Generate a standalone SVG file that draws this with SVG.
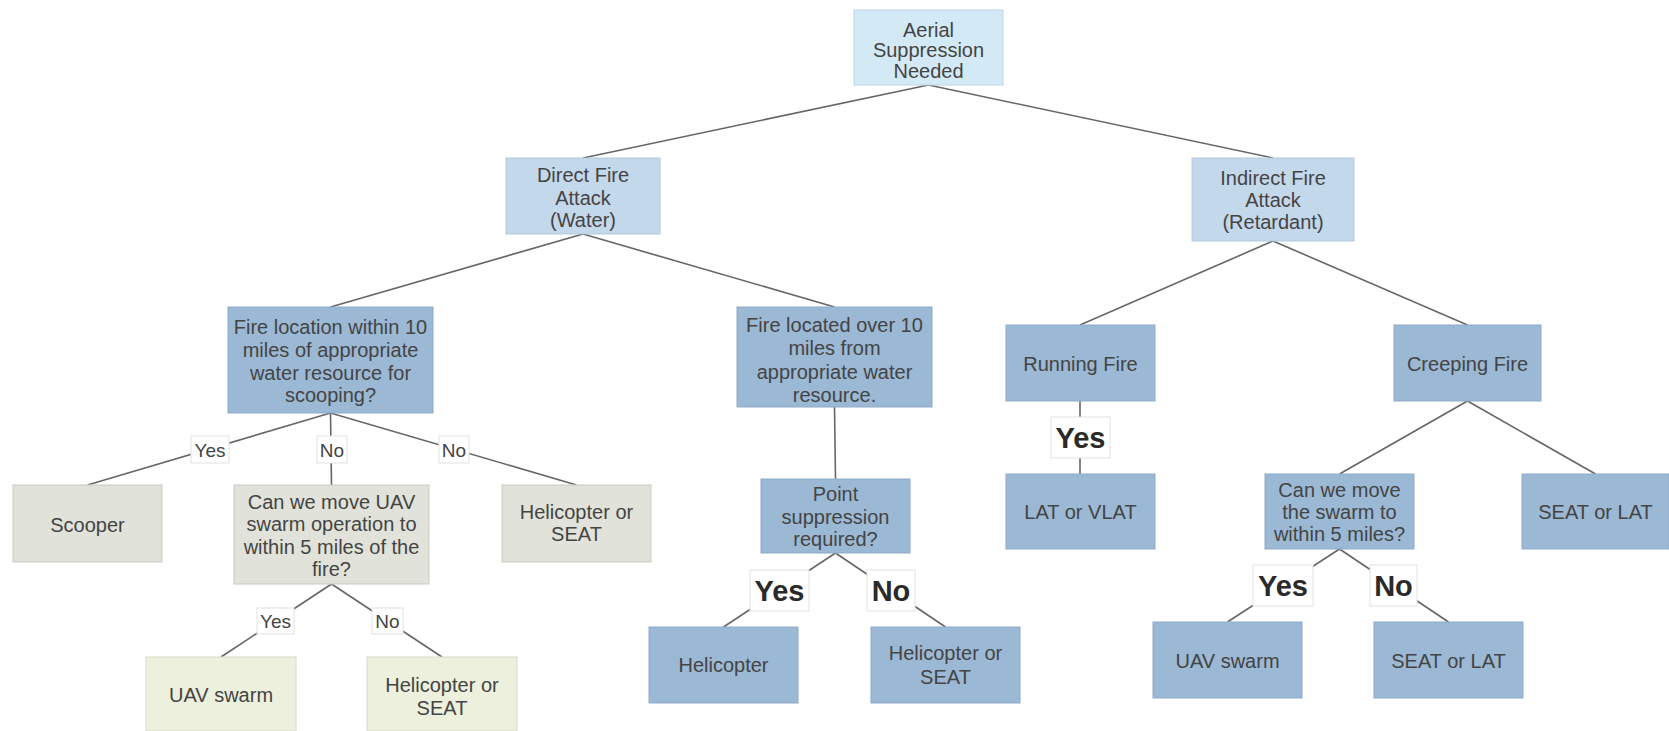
<svg xmlns="http://www.w3.org/2000/svg" width="1669" height="731" viewBox="0 0 1669 731">
<style>
.n{stroke-width:1}
.root{fill:#d3e9f6;stroke:#bcd6e6}
.l1{fill:#c4d8ec;stroke:#b3c9de}
.b{fill:#9bb8d4;stroke:#8eabc7}
.g{fill:#e1e3da;stroke:#c9cbc2}
.gr{fill:#ecf0dd;stroke:#d8dcc9}
text{font-family:"Liberation Sans",Arial,sans-serif;fill:#444;text-anchor:middle;dominant-baseline:central}
.t{font-size:20px}
.lb{font-size:19px}
.bl{font-size:29px;font-weight:bold;fill:#2a2a2a}
.e{stroke:#666;stroke-width:1.6;fill:none}
.lab{fill:#fff;stroke:#e2e2e2;stroke-width:1}
</style>
<rect width="1669" height="731" fill="#fff"/>
<g id="connectors">
<path class="e" d="M928.5,85 L583,158 M928.5,85 L1273,158"/>
<path class="e" d="M583,234 L330.5,307 M583,234 L834.5,307"/>
<path class="e" d="M1273,241 L1080,325 M1273,241 L1467.5,325"/>
<path class="e" d="M330.5,413 L87.5,485 M330.5,413 L331.5,485 M330.5,413 L576.5,485"/>
<path class="e" d="M834.5,407 L835.5,479"/>
<path class="e" d="M331.5,584 L221,657 M331.5,584 L442,657"/>
<path class="e" d="M835.5,553 L723.5,627 M835.5,553 L945.5,627"/>
<path class="e" d="M1080,401 L1080,474"/>
<path class="e" d="M1467.5,401 L1339.5,474 M1467.5,401 L1595.5,474"/>
<path class="e" d="M1339.5,549 L1227.5,622 M1339.5,549 L1448.5,622"/>
<rect class="lab" x="191" y="436" width="38" height="27"/><text class="lb" x="210" y="450">Yes</text>
<rect class="lab" x="317" y="436" width="30" height="27"/><text class="lb" x="332" y="450">No</text>
<rect class="lab" x="439" y="436" width="30" height="27"/><text class="lb" x="454" y="450">No</text>
<rect class="lab" x="257" y="608" width="37" height="26"/><text class="lb" x="275.5" y="621">Yes</text>
<rect class="lab" x="372" y="608" width="31" height="26"/><text class="lb" x="387.5" y="621">No</text>
<rect class="lab" x="750" y="570" width="59" height="41"/><text class="bl" x="779.5" y="591">Yes</text>
<rect class="lab" x="867" y="570" width="48" height="41"/><text class="bl" x="891" y="591">No</text>
<rect class="lab" x="1051" y="417" width="59" height="41"/><text class="bl" x="1080.5" y="438">Yes</text>
<rect class="lab" x="1253" y="565" width="60" height="41"/><text class="bl" x="1283" y="586">Yes</text>
<rect class="lab" x="1370" y="565" width="47" height="41"/><text class="bl" x="1393.5" y="586">No</text>
</g>
<g id="root"><rect class="n root" x="854" y="10" width="149" height="75"/><text class="t" x="928.5" y="29.5">Aerial</text><text class="t" x="928.5" y="50">Suppression</text><text class="t" x="928.5" y="70.5">Needed</text></g>
<g id="direct"><rect class="n l1" x="506" y="158" width="154" height="76"/><text class="t" x="583" y="175">Direct Fire</text><text class="t" x="583" y="197.5">Attack</text><text class="t" x="583" y="220">(Water)</text></g>
<g id="indirect"><rect class="n l1" x="1192" y="158" width="162" height="83"/><text class="t" x="1273" y="178">Indirect Fire</text><text class="t" x="1273" y="200">Attack</text><text class="t" x="1273" y="222">(Retardant)</text></g>
<g id="fire-within"><rect class="n b" x="228" y="307" width="205" height="106"/><text class="t" x="330.5" y="327">Fire location within 10</text><text class="t" x="330.5" y="350">miles of appropriate</text><text class="t" x="330.5" y="372.5">water resource for</text><text class="t" x="330.5" y="395">scooping?</text></g>
<g id="fire-over"><rect class="n b" x="737" y="307" width="195" height="100"/><text class="t" x="834.5" y="325">Fire located over 10</text><text class="t" x="834.5" y="348">miles from</text><text class="t" x="834.5" y="371.5">appropriate water</text><text class="t" x="834.5" y="395">resource.</text></g>
<g id="running"><rect class="n b" x="1006" y="325" width="149" height="76"/><text class="t" x="1080.5" y="364">Running Fire</text></g>
<g id="creeping"><rect class="n b" x="1394" y="325" width="147" height="76"/><text class="t" x="1467.5" y="364">Creeping Fire</text></g>
<g id="scooper"><rect class="n g" x="13" y="485" width="149" height="77"/><text class="t" x="87.5" y="525">Scooper</text></g>
<g id="move-uav"><rect class="n g" x="234" y="485" width="195" height="99"/><text class="t" x="331.5" y="502">Can we move UAV</text><text class="t" x="331.5" y="524">swarm operation to</text><text class="t" x="331.5" y="546.5">within 5 miles of the</text><text class="t" x="331.5" y="569">fire?</text></g>
<g id="heli-seat-grey"><rect class="n g" x="502" y="485" width="149" height="77"/><text class="t" x="576.5" y="512">Helicopter or</text><text class="t" x="576.5" y="534">SEAT</text></g>
<g id="point"><rect class="n b" x="761" y="479" width="149" height="74"/><text class="t" x="835.5" y="494">Point</text><text class="t" x="835.5" y="517">suppression</text><text class="t" x="835.5" y="539">required?</text></g>
<g id="lat-vlat"><rect class="n b" x="1006" y="474" width="149" height="75"/><text class="t" x="1080.5" y="512">LAT or VLAT</text></g>
<g id="move-swarm"><rect class="n b" x="1265" y="474" width="149" height="75"/><text class="t" x="1339.5" y="490">Can we move</text><text class="t" x="1339.5" y="512">the swarm to</text><text class="t" x="1339.5" y="534">within 5 miles?</text></g>
<g id="seat-lat-1"><rect class="n b" x="1522" y="474" width="147" height="75"/><text class="t" x="1595.5" y="512">SEAT or LAT</text></g>
<g id="uav-green"><rect class="n gr" x="146" y="657" width="150" height="74"/><text class="t" x="221" y="695">UAV swarm</text></g>
<g id="heli-seat-green"><rect class="n gr" x="367" y="657" width="150" height="74"/><text class="t" x="442" y="685">Helicopter or</text><text class="t" x="442" y="708">SEAT</text></g>
<g id="helicopter"><rect class="n b" x="649" y="627" width="149" height="76"/><text class="t" x="723.5" y="665">Helicopter</text></g>
<g id="heli-seat-blue"><rect class="n b" x="871" y="627" width="149" height="76"/><text class="t" x="945.5" y="653">Helicopter or</text><text class="t" x="945.5" y="677">SEAT</text></g>
<g id="uav-blue"><rect class="n b" x="1153" y="622" width="149" height="76"/><text class="t" x="1227.5" y="661">UAV swarm</text></g>
<g id="seat-lat-2"><rect class="n b" x="1374" y="622" width="149" height="76"/><text class="t" x="1448.5" y="661">SEAT or LAT</text></g>
</svg>
